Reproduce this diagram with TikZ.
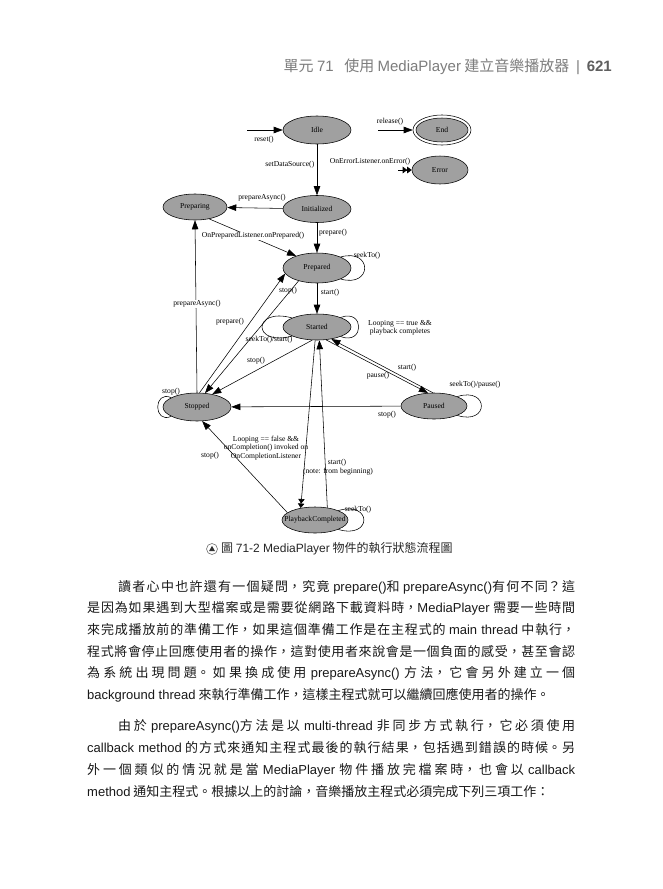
\documentclass[tikz,border=0pt]{standalone}
\usepackage{fontspec}
\usetikzlibrary{shapes.geometric,arrows.meta,calc}
\setmainfont{Noto Sans CJK TC}
\newfontfamily\lat{Liberation Sans}
\newfontfamily\dia{Liberation Serif}
\XeTeXlinebreaklocale "zh"
\XeTeXlinebreakskip=0pt plus 3pt
\definecolor{stfill}{RGB}{160,160,160}
\definecolor{hdr}{RGB}{125,125,125}
\definecolor{hdrnum}{RGB}{95,95,95}
\definecolor{bodytxt}{RGB}{25,25,25}
\newcommand\dsz{\dia\fontsize{7.6}{8.5}\selectfont}
\newcommand\bodysz{\fontsize{13}{15}\selectfont}
\newcommand\jline[3]{\node[anchor=west, inner sep=0pt, font=\bodysz, text=bodytxt] (#1) at (87,#2) {\parbox{488pt}{\tolerance=10000\hbadness=10000\parfillskip=0pt\relax\noindent #3}};}
\newcommand\nline[3]{\node[anchor=west, inner sep=0pt, font=\bodysz, text=bodytxt] (#1) at (87,#2) {#3};}
\begin{document}
\begin{tikzpicture}[x=1pt,y=-1pt,
  stnode/.style={ellipse, draw=black, line width=0.55pt, fill=stfill, inner sep=0pt, minimum width=68pt, minimum height=28pt, font=\dsz},
  lbl/.style={font=\dsz, inner sep=0.5pt, align=center},
  conn/.style={draw=black, line width=0.55pt, -{Triangle[length=9pt,width=6.5pt]}},
  conntwo/.style={draw=black, line width=0.55pt, -{Triangle[length=4.5pt,width=6.5pt]Triangle[length=4.5pt,width=6.5pt]}},
  loopline/.style={draw=black, line width=0.55pt}]
\fill[white] (0,0) rectangle (663,889);
\useasboundingbox (0,0) rectangle (663,889);

% header
\node[anchor=east, inner sep=0pt, font=\fontsize{15}{17}\selectfont] (hdr) at (612,67)
  {{\color{hdr}單元 {\lat 71}\hspace{0.7em}使用 {\lat MediaPlayer} 建立音樂播放器\hspace{0.45em}{\lat |}\hspace{0.45em}}{\color{hdrnum}\lat\bfseries 621}};

% states
\node[stnode] (idle) at (317,130) {Idle};
\node[stnode, minimum width=52pt, minimum height=24pt] (end) at (442,130) {End};
\draw[line width=0.55pt] (end.center) ellipse [x radius=29pt, y radius=15pt];
\node[stnode, minimum width=56pt, minimum height=28pt] (error) at (440,170) {Error};
\node[stnode, minimum height=27pt] (init) at (317,209) {Initialized};
\node[stnode, minimum width=64pt, minimum height=26pt] (preparing) at (195,207) {Preparing};
\node[stnode, minimum height=30pt] (prepared) at (317,268) {Prepared};
\node[stnode, minimum height=26pt] (started) at (317,327) {Started};
\node[stnode] (stopped) at (197,407) {Stopped};
\node[stnode, minimum width=66pt, minimum height=26pt] (paused) at (434,406) {Paused};
\node[stnode, minimum width=66pt, minimum height=26pt] (pbc) at (315,520) {};
\node[lbl] (pbctext) at (pbc) {PlaybackCompleted};

% entry arrows
\coordinate (r0) at (247,130);
\draw[conn] (r0) -- (idle);
\node[lbl] (lreset) at (264,140) {reset()};
\coordinate (rel0) at (378,130);
\draw[conn] (rel0) -- ([xshift=-3pt]end.west);
\node[lbl] (lrel) at (390,122) {release()};
\coordinate (err0) at (398,170);
\draw[conntwo] (err0) -- (error);
\node[lbl] (lerr) at (370,162) {OnErrorListener.onError()};

% transitions
\draw[conn] (idle) -- (init);
\node[lbl, anchor=east] (lsds) at (315,165) {setDataSource()};
\draw[conn] (init) -- (preparing);
\node[lbl] (lpa1) at (262,198) {prepareAsync()};
\draw[conn] (init) -- (prepared);
\node[lbl] (lprep1) at (333,233) {prepare()};
\draw[conn] (preparing.-40) -- (prepared.150);
\node[lbl, fill=white] (lonprep) at (253,236) {OnPreparedListener.onPrepared()};
\draw[loopline] (prepared.25) .. controls +(32,-9) and +(32,9) .. (prepared.-25);
\node[lbl] (lseek1) at (367,256) {seekTo()};
\draw[conn] (prepared) -- (started);
\node[lbl] (lstart1) at (330,293) {start()};

\draw[conn] (stopped.north) -- (preparing.south);
\node[lbl, fill=white] (lpa2) at (197,304) {prepareAsync()};
\draw[conn] (stopped.80) -- (prepared.190);
\node[lbl] (lprep2) at (230,322) {prepare()};
\draw[conn] (prepared.215) -- (stopped.60);
\node[lbl] (lstop1) at (288,291) {stop()};

\draw[loopline] (started.160) .. controls +(-40,-11) and +(-40,11) .. (started.200);
\node[lbl] (lseekstart) at (269,340) {seekTo()/start()};
\draw[loopline] (started.22) .. controls +(24,-9) and +(24,9) .. (started.-22);
\node[lbl] (lloopt) at (400,328) {Looping == true \&\&\\playback completes};

\draw[conn] (started.250) -- (stopped.40);
\node[lbl] (lstop2) at (256,361) {stop()};
\draw[conn] (paused.95) -- (started.-40);
\node[lbl] (lstart2) at (407,368) {start()};
\draw[conn] (started.-55) -- (paused.115);
\node[lbl] (lpause) at (378,376) {pause()};
\draw[loopline] (paused.22) .. controls +(32,-10) and +(32,10) .. (paused.-22);
\node[lbl] (lseekpause) at (475,385) {seekTo()/pause()};
\draw[conn] (paused) -- (stopped);
\node[lbl] (lstop3) at (387,415) {stop()};
\draw[loopline] (stopped.160) .. controls +(-18,-8) and +(-18,8) .. (stopped.200);
\node[lbl] (lstop4) at (171,392) {stop()};

\draw[conntwo] (started.262) -- (pbc.140);
\node[lbl] (lloopf) at (266,448) {Looping == false \&\&\\onCompletion() invoked on\\OnCompletionListener};
\draw[conn] (pbc.45) -- (started.-80);
\node[lbl] (lstart3) at (337,463) {start()};
\node[lbl] (lnote) at (338,472) {(note: from beginning)};
\draw[conn] (pbc.165) -- (stopped.-70);
\node[lbl] (lstop5) at (210,456) {stop()};
\draw[loopline] (pbc.22) .. controls +(34,-10) and +(34,10) .. (pbc.-22);
\node[lbl] (lseek2) at (358,510) {seekTo()};

% caption
\draw[black!55, line width=0.6pt] (212,549) circle [radius=5.5pt];
\fill[black!80] (212,545.8) -- (214.9,551) -- (209.1,551) -- cycle;
\node[anchor=west, inner sep=0pt, font=\fontsize{12}{14}\selectfont, text=black!85] (cap) at (221,549)
  {圖 {\lat 71-2 MediaPlayer} 物件的執行狀態流程圖};

% body text
\jline{p1a}{587}{\hspace*{31pt}讀者心中也許還有一個疑問，究竟 {\lat prepare()}和 {\lat prepareAsync()}有何不同？這}
\jline{p1b}{608}{是因為如果遇到大型檔案或是需要從網路下載資料時，{\lat MediaPlayer} 需要一些時間}
\jline{p1c}{630}{來完成播放前的準備工作，如果這個準備工作是在主程式的 {\lat main thread} 中執行，}
\jline{p1d}{651}{程式將會停止回應使用者的操作，這對使用者來說會是一個負面的感受，甚至會認}
\jline{p1e}{673}{為系統出現問題。如果換成使用 {\lat prepareAsync()} 方法，它會另外建立一個}
\nline{p1f}{695}{{\lat background thread} 來執行準備工作，這樣主程式就可以繼續回應使用者的操作。}

\jline{p2a}{726}{\hspace*{31pt}由於 {\lat prepareAsync()}方法是以 {\lat multi-thread} 非同步方式執行，它必須使用}
\jline{p2b}{748}{{\lat callback method} 的方式來通知主程式最後的執行結果，包括遇到錯誤的時候。另}
\jline{p2c}{770}{外一個類似的情況就是當 {\lat MediaPlayer} 物件播放完檔案時，也會以 {\lat callback}}
\nline{p2d}{792}{{\lat method} 通知主程式。根據以上的討論，音樂播放主程式必須完成下列三項工作：}
\end{tikzpicture}
\end{document}
